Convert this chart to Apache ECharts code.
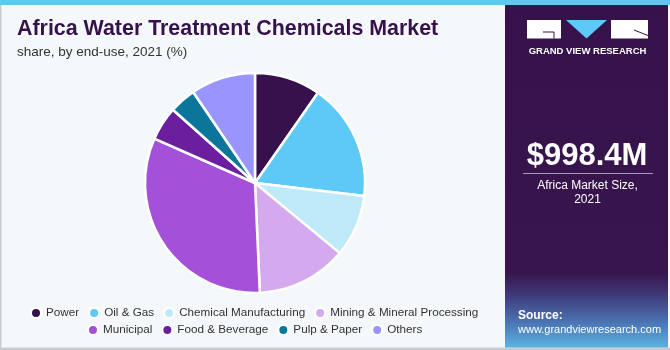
<!DOCTYPE html>
<html><head><meta charset="utf-8">
<script src="https://cdn.jsdelivr.net/npm/echarts@6/dist/echarts.min.js"></script>
<style>html,body{margin:0;padding:0;background:#F4F8FB;}#c{width:670px;height:350px;}</style>
</head><body><div id="c"></div>
<script>
const categories = ['Power','Oil & Gas','Chemical Manufacturing','Mining & Mineral Processing','Municipal','Food & Beverage','Pulp & Paper','Others'];
const shares = [9.7, 17.2, 9.1, 13.3, 32.3, 5.0, 3.9, 9.5];
const colors = ['#37114B','#5CC9F7','#BDE9F9','#D5A9EE','#A450D8','#6B1E9E','#0B769A','#9A94FE'];
const titleText = 'Africa Water Treatment Chemicals Market';
const subtitleText = 'share, by end-use, 2021 (%)';
const marketSize = '$998.4M';
const marketLabel = ['Africa Market Size,', '2021'];

const chart = echarts.init(document.getElementById('c'), null, {renderer:'canvas'});
const F = 'Liberation Sans, Arial, sans-serif';
const legendText = {fontFamily: F, fontSize: 11.7, color: '#333'};
chart.setOption({
  backgroundColor: '#F4F8FB',
  animation: false,
  color: colors,
  title: {
    text: titleText, subtext: subtitleText, left: 12, top: 14, itemGap: 5,
    textStyle: {fontFamily: F, fontWeight: 'bold', fontSize: 21.4, color: '#36124A'},
    subtextStyle: {fontFamily: F, fontSize: 13.5, color: '#333'}
  },
  legend: [
    {data: categories.slice(0,4), left: 30, top: 307, padding: 0, icon: 'circle', itemWidth: 10, itemHeight: 10, itemGap: 9, textStyle: legendText},
    {data: categories.slice(4), left: 87, top: 324, padding: 0, icon: 'circle', itemWidth: 10, itemHeight: 10, itemGap: 9, textStyle: legendText}
  ],
  series: [{
    type: 'pie', center: [255, 183], radius: 110, startAngle: 90, clockwise: true,
    label: {show: false}, labelLine: {show: false},
    itemStyle: {borderColor: '#ffffff', borderWidth: 2.5},
    emphasis: {disabled: true},
    data: categories.map((n, i) => ({name: n, value: shares[i]}))
  }],
  graphic: [
    {type: 'rect', shape: {x: 0, y: 0, width: 670, height: 5}, style: {fill: '#63C6EE'}},
    {type: 'rect', shape: {x: 0, y: 5, width: 1.5, height: 345}, style: {fill: '#C8CCD0'}},
    {type: 'rect', shape: {x: 0, y: 347.5, width: 670, height: 2.5}, style: {fill: '#C8CCD0'}},
    {type: 'rect', shape: {x: 505, y: 5, width: 163, height: 342.5},
     style: {fill: new echarts.graphic.LinearGradient(0, 0, 0, 1, [
       {offset: 0, color: '#37124A'}, {offset: 0.78, color: '#38154E'},
       {offset: 0.84, color: '#3E3574'}, {offset: 0.92, color: '#4A6FAE'}, {offset: 1, color: '#5BB3E2'}])}},
    {type: 'rect', shape: {x: 527, y: 20, width: 34, height: 18.5}, style: {fill: '#ffffff'}},
    {type: 'polyline', shape: {points: [[543, 32], [554, 32], [554, 38.5]]}, style: {stroke: '#37124A', lineWidth: 1, fill: null}},
    {type: 'polygon', shape: {points: [[566, 20], [607, 20], [586.5, 38.5]]}, style: {fill: '#5CC9F7'}},
    {type: 'rect', shape: {x: 611, y: 20, width: 37, height: 18.5}, style: {fill: '#ffffff'}},
    {type: 'line', shape: {x1: 634, y1: 30, x2: 648, y2: 35.5}, style: {stroke: '#37124A', lineWidth: 1}},
    {type: 'text', x: 587.5, y: 51, style: {text: 'GRAND VIEW RESEARCH', fill: '#ffffff', font: 'bold 9.5px ' + F, textAlign: 'center', textVerticalAlign: 'middle'}},
    {type: 'text', x: 587, y: 156, style: {text: marketSize, fill: '#ffffff', font: 'bold 31px ' + F, textAlign: 'center', textVerticalAlign: 'middle'}},
    {type: 'line', shape: {x1: 523, y1: 173.5, x2: 653, y2: 173.5}, style: {stroke: '#A898BC', lineWidth: 1}},
    {type: 'text', x: 587.5, y: 186, style: {text: marketLabel[0], fill: '#ffffff', font: '12px ' + F, textAlign: 'center', textVerticalAlign: 'middle'}},
    {type: 'text', x: 587.5, y: 200, style: {text: marketLabel[1], fill: '#ffffff', font: '12px ' + F, textAlign: 'center', textVerticalAlign: 'middle'}},
    {type: 'text', x: 518, y: 316, style: {text: 'Source:', fill: '#ffffff', font: 'bold 12px ' + F, textVerticalAlign: 'middle'}},
    {type: 'text', x: 518, y: 330, style: {text: 'www.grandviewresearch.com', fill: '#ffffff', font: '11px ' + F, textVerticalAlign: 'middle'}}
  ]
});
</script></body></html>
